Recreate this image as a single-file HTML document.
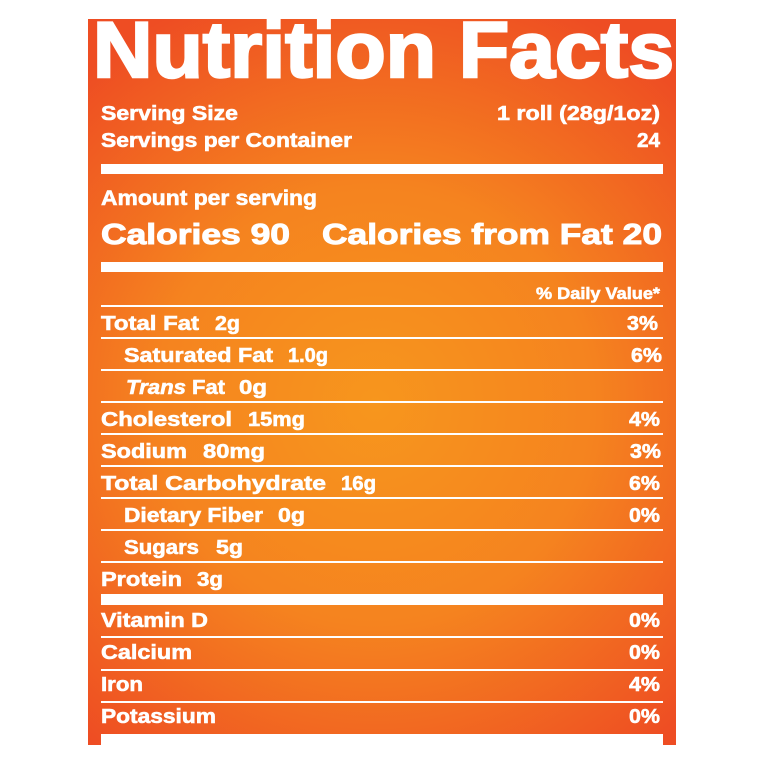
<!DOCTYPE html>
<html>
<head>
<meta charset="utf-8">
<style>
html,body{margin:0;padding:0;background:#fff;}
svg{display:block;}
text{font-family:"Liberation Sans",Arial,sans-serif;font-weight:bold;fill:#fff;stroke:#fff;stroke-width:0.6px;}
</style>
</head>
<body>
<svg width="765" height="765" viewBox="0 0 765 765" xmlns="http://www.w3.org/2000/svg">
<defs>
<radialGradient id="g" gradientUnits="userSpaceOnUse" cx="375" cy="405" r="440">
<stop offset="0" stop-color="#f7961d"/>
<stop offset="0.5" stop-color="#f5831f"/>
<stop offset="1" stop-color="#ee4d23"/>
</radialGradient>
<clipPath id="c"><rect x="88" y="19" width="588" height="726"/></clipPath>
</defs>
<rect x="0" y="0" width="765" height="765" fill="#fff"/>
<rect x="88" y="19" width="588" height="726" fill="url(#g)"/>

<text x="93" y="77" font-size="79" textLength="581" lengthAdjust="spacingAndGlyphs" style="stroke-width:2.5px" clip-path="url(#c)">Nutrition Facts</text>

<text x="101" y="120" font-size="20" textLength="137" lengthAdjust="spacingAndGlyphs">Serving Size</text>
<text x="497" y="120" font-size="20" textLength="163" lengthAdjust="spacingAndGlyphs">1 roll (28g/1oz)</text>
<text x="101" y="147" font-size="20" textLength="251" lengthAdjust="spacingAndGlyphs">Servings per Container</text>
<text x="637" y="147" font-size="20" textLength="23" lengthAdjust="spacingAndGlyphs">24</text>

<rect x="101" y="164" width="562" height="10" fill="#fff"/>

<text x="101" y="205" font-size="21" textLength="216" lengthAdjust="spacingAndGlyphs">Amount per serving</text>
<text x="101" y="244" font-size="29" textLength="189" lengthAdjust="spacingAndGlyphs" style="stroke-width:1px">Calories 90</text>
<text x="322" y="244" font-size="29" textLength="340" lengthAdjust="spacingAndGlyphs" style="stroke-width:1px">Calories from Fat 20</text>

<rect x="101" y="262" width="562" height="10" fill="#fff"/>

<text x="536" y="299" font-size="17" textLength="124" lengthAdjust="spacingAndGlyphs">% Daily Value*</text>

<g fill="#fff">
<rect x="101" y="305" width="562" height="2"/>
<rect x="101" y="337" width="562" height="2"/>
<rect x="101" y="369" width="562" height="2"/>
<rect x="101" y="401" width="562" height="2"/>
<rect x="101" y="433" width="562" height="2"/>
<rect x="101" y="465" width="562" height="2"/>
<rect x="101" y="497" width="562" height="2"/>
<rect x="101" y="529" width="562" height="2"/>
<rect x="101" y="561" width="562" height="2"/>
<rect x="101" y="594" width="562" height="11"/>
<rect x="101" y="636" width="562" height="2"/>
<rect x="101" y="669" width="562" height="2"/>
<rect x="101" y="701" width="562" height="2"/>
<rect x="101" y="734" width="562" height="11"/>
</g>

<text x="101" y="330" font-size="20" textLength="98" lengthAdjust="spacingAndGlyphs">Total Fat</text>
<text x="215" y="330" font-size="20" textLength="25" lengthAdjust="spacingAndGlyphs">2g</text>
<text x="658" y="330" font-size="20" text-anchor="end" textLength="31" lengthAdjust="spacingAndGlyphs">3%</text>

<text x="124" y="362" font-size="20" textLength="149" lengthAdjust="spacingAndGlyphs">Saturated Fat</text>
<text x="288" y="362" font-size="20" textLength="40" lengthAdjust="spacingAndGlyphs">1.0g</text>
<text x="662" y="362" font-size="20" text-anchor="end" textLength="31" lengthAdjust="spacingAndGlyphs">6%</text>

<text x="126" y="394" font-size="20" font-style="italic" textLength="60" lengthAdjust="spacingAndGlyphs">Trans</text>
<text x="192" y="394" font-size="20" textLength="33" lengthAdjust="spacingAndGlyphs">Fat</text>
<text x="239" y="394" font-size="20" textLength="28" lengthAdjust="spacingAndGlyphs">0g</text>

<text x="101" y="426" font-size="20" textLength="131" lengthAdjust="spacingAndGlyphs">Cholesterol</text>
<text x="248" y="426" font-size="20" textLength="57" lengthAdjust="spacingAndGlyphs">15mg</text>
<text x="660" y="426" font-size="20" text-anchor="end" textLength="31" lengthAdjust="spacingAndGlyphs">4%</text>

<text x="101" y="458" font-size="20" textLength="86" lengthAdjust="spacingAndGlyphs">Sodium</text>
<text x="203" y="458" font-size="20" textLength="62" lengthAdjust="spacingAndGlyphs">80mg</text>
<text x="661" y="458" font-size="20" text-anchor="end" textLength="31" lengthAdjust="spacingAndGlyphs">3%</text>

<text x="101" y="490" font-size="20" textLength="225" lengthAdjust="spacingAndGlyphs">Total Carbohydrate</text>
<text x="341" y="490" font-size="20" textLength="35" lengthAdjust="spacingAndGlyphs">16g</text>
<text x="660" y="490" font-size="20" text-anchor="end" textLength="31" lengthAdjust="spacingAndGlyphs">6%</text>

<text x="124" y="522" font-size="20" textLength="139" lengthAdjust="spacingAndGlyphs">Dietary Fiber</text>
<text x="278" y="522" font-size="20" textLength="27" lengthAdjust="spacingAndGlyphs">0g</text>
<text x="660" y="522" font-size="20" text-anchor="end" textLength="31" lengthAdjust="spacingAndGlyphs">0%</text>

<text x="124" y="554" font-size="20" textLength="75" lengthAdjust="spacingAndGlyphs">Sugars</text>
<text x="216" y="554" font-size="20" textLength="27" lengthAdjust="spacingAndGlyphs">5g</text>

<text x="101" y="586" font-size="20" textLength="81" lengthAdjust="spacingAndGlyphs">Protein</text>
<text x="197" y="586" font-size="20" textLength="26" lengthAdjust="spacingAndGlyphs">3g</text>

<text x="101" y="627" font-size="20" textLength="107" lengthAdjust="spacingAndGlyphs">Vitamin D</text>
<text x="660" y="627" font-size="20" text-anchor="end" textLength="31" lengthAdjust="spacingAndGlyphs">0%</text>

<text x="101" y="659" font-size="20" textLength="91" lengthAdjust="spacingAndGlyphs">Calcium</text>
<text x="660" y="659" font-size="20" text-anchor="end" textLength="31" lengthAdjust="spacingAndGlyphs">0%</text>

<text x="101" y="691" font-size="20" textLength="42" lengthAdjust="spacingAndGlyphs">Iron</text>
<text x="660" y="691" font-size="20" text-anchor="end" textLength="31" lengthAdjust="spacingAndGlyphs">4%</text>

<text x="101" y="723" font-size="20" textLength="115" lengthAdjust="spacingAndGlyphs">Potassium</text>
<text x="660" y="723" font-size="20" text-anchor="end" textLength="31" lengthAdjust="spacingAndGlyphs">0%</text>
</svg>
</body>
</html>
